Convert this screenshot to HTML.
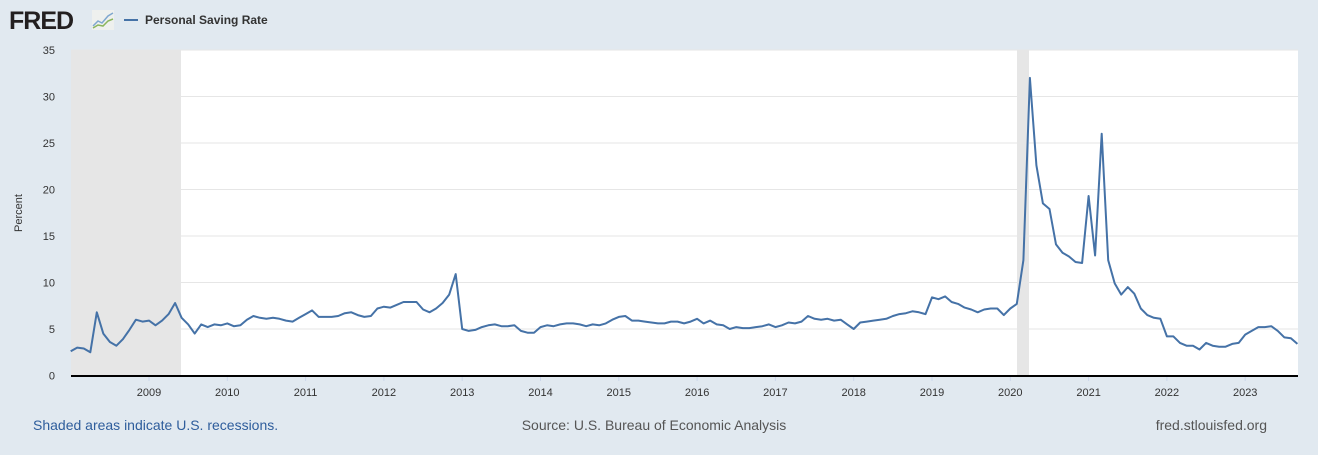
<!DOCTYPE html>
<html><head><meta charset="utf-8"><style>
body{margin:0;width:1318px;height:450px;background:#e1e9f0;font-family:"Liberation Sans",Arial,sans-serif;overflow:hidden}
</style></head><body>
<svg id="s" width="1318" height="450" xmlns="http://www.w3.org/2000/svg" font-family="Liberation Sans, Arial, sans-serif">
<text x="9" y="29" font-size="25" font-weight="bold" fill="#231f20" letter-spacing="-1">FRED</text>
<rect x="92" y="10" width="22" height="20" fill="#eef0ee"/>
<polyline points="93,26 98,21 102,23 108,16 113,13" fill="none" stroke="#7fa7cf" stroke-width="1.5"/>
<polyline points="93,28 98,25 103,26 108,21 113,19" fill="none" stroke="#8ab55d" stroke-width="1.5"/>
<line x1="124" y1="20" x2="138" y2="20" stroke="#4572a7" stroke-width="2"/>
<text x="145" y="24" font-size="12" font-weight="bold" fill="#333">Personal Saving Rate</text>
<rect x="71" y="50" width="1227" height="326" fill="#fff"/>
<rect x="71" y="50" width="110" height="326" fill="#e6e6e6"/>
<rect x="1017" y="50" width="12" height="326" fill="#e6e6e6"/>
<g id="grid" stroke="#e6e6e6" stroke-width="1"></g>
<g id="lab" font-size="11" fill="#333"></g>
<line x1="71" y1="376" x2="1298" y2="376" stroke="#000" stroke-width="2"/>
<polyline id="ln" fill="none" stroke="#4572a7" stroke-width="2" stroke-linejoin="round"/>
<text x="22" y="213" font-size="11" fill="#333" text-anchor="middle" transform="rotate(-90 22 213)">Percent</text>
<text x="33" y="430" font-size="14" fill="#2e5d9c">Shaded areas indicate U.S. recessions.</text>
<text x="654" y="430" font-size="14" fill="#555" text-anchor="middle">Source: U.S. Bureau of Economic Analysis</text>
<text x="1267" y="430" font-size="14" fill="#555" text-anchor="end">fred.stlouisfed.org</text>
</svg>
<script>
var d=[2.6,3.0,2.9,2.5,6.8,4.5,3.6,3.2,3.9,4.9,6.0,5.8,
5.9,5.4,5.9,6.6,7.8,6.2,5.5,4.5,5.5,5.2,5.5,5.4,
5.6,5.3,5.4,6.0,6.4,6.2,6.1,6.2,6.1,5.9,5.8,6.2,
6.6,7.0,6.3,6.3,6.3,6.4,6.7,6.8,6.5,6.3,6.4,7.2,
7.4,7.3,7.6,7.9,7.9,7.9,7.1,6.8,7.2,7.8,8.7,10.9,
5.0,4.8,4.9,5.2,5.4,5.5,5.3,5.3,5.4,4.8,4.6,4.6,
5.2,5.4,5.3,5.5,5.6,5.6,5.5,5.3,5.5,5.4,5.6,6.0,
6.3,6.4,5.9,5.9,5.8,5.7,5.6,5.6,5.8,5.8,5.6,5.8,
6.1,5.6,5.9,5.5,5.4,5.0,5.2,5.1,5.1,5.2,5.3,5.5,
5.2,5.4,5.7,5.6,5.8,6.4,6.1,6.0,6.1,5.9,6.0,5.5,
5.0,5.7,5.8,5.9,6.0,6.1,6.4,6.6,6.7,6.9,6.8,6.6,
8.4,8.2,8.5,7.9,7.7,7.3,7.1,6.8,7.1,7.2,7.2,6.5,
7.2,7.7,12.4,32.0,22.6,18.5,17.9,14.1,13.2,12.8,12.2,12.1,
19.3,12.9,26.0,12.4,9.9,8.7,9.5,8.8,7.2,6.5,6.2,6.1,
4.2,4.2,3.5,3.2,3.2,2.8,3.5,3.2,3.1,3.1,3.4,3.5,
4.4,4.8,5.2,5.2,5.3,4.8,4.1,4.0,3.4];
var p=d.map(function(v,i){return (70.7+i*6.525).toFixed(1)+","+(375.5-v*9.3).toFixed(1)}).join(" ");
document.getElementById("ln").setAttribute("points",p);
var g=document.getElementById("grid"),l=document.getElementById("lab"),ns="http://www.w3.org/2000/svg",h="";
var lh="";
for(var k=1;k<=7;k++){var y=375.5-k*46.5;h+='<line x1="71" x2="1298" y1="'+y+'" y2="'+y+'"/>';}
for(var k=0;k<=7;k++){var y=375.5-k*46.5;lh+='<text x="55" y="'+(y+4)+'" text-anchor="end">'+(k*5)+'</text>';}
for(var yr=2009;yr<=2023;yr++){var x=70.7+(yr-2008)*78.3;h+='<line x1="'+x+'" x2="'+x+'" y1="376" y2="381" stroke="#ccd6eb"/>';lh+='<text x="'+x+'" y="396" text-anchor="middle">'+yr+'</text>';}
g.innerHTML=h;l.innerHTML=lh;
</script>
</body></html>
